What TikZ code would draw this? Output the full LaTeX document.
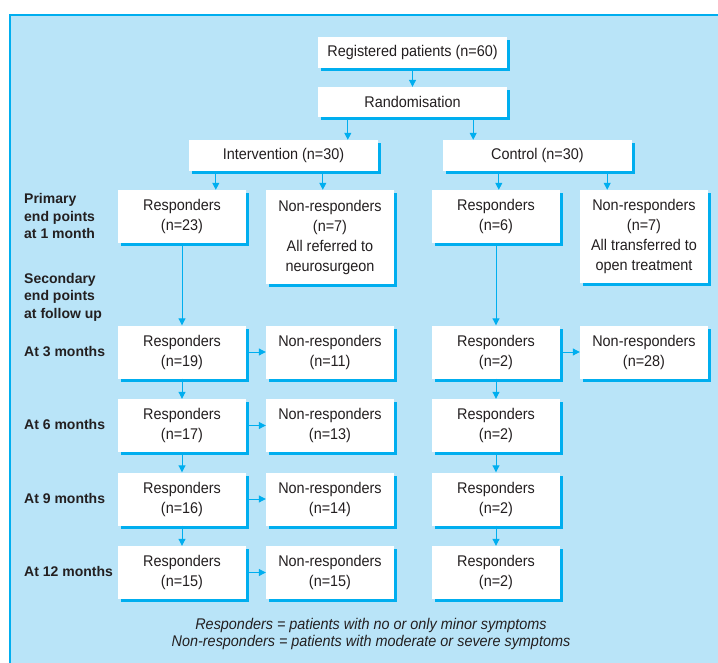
\documentclass[tikz,border=0pt]{standalone}
\usepackage{fontspec}
\setmainfont{Liberation Sans}
\newfontfamily\boxfont[FakeStretch=0.93]{Liberation Sans}
\usetikzlibrary{arrows.meta,shadows}
\definecolor{bgblue}{RGB}{185,228,248}
\definecolor{cyanC}{RGB}{0,174,239}
\definecolor{txt}{RGB}{35,31,32}
\begin{document}
\begin{tikzpicture}[x=1pt,y=-1pt,
 box/.style={fill=white, inner sep=0pt, minimum width=128pt, minimum height=53pt, align=center, text=txt,
   font=\boxfont\fontsize{15.5}{20}\selectfont,
   general shadow={fill=cyanC, shadow xshift=3pt, shadow yshift=-3pt}},
 wide/.style={box, minimum width=189pt, minimum height=31pt},
 arr/.style={draw=cyanC, line width=1pt, -{Triangle[length=7pt,width=7pt]}},
 lab/.style={font=\fontsize{14}{17.5}\selectfont\bfseries, text=txt, align=left, inner sep=0pt},
 note/.style={font=\boxfont\fontsize{15.5}{17}\selectfont\itshape, text=txt, inner sep=0pt}]
\useasboundingbox (0,0) rectangle (718,663);
\fill[bgblue] (10,15) rectangle (718,663);
\draw[cyanC, line width=1.5pt] (10,663) -- (10,15) -- (718,15);

% top
\node[wide] (reg) at (412.5,52.5) {Registered patients (n=60)};
\node[wide, minimum height=30pt] (rand) at (412.5,102) {Randomisation};
\node[wide] (int) at (283.5,155.5) {Intervention (n=30)};
\node[wide] (ctl) at (537.5,155.5) {Control (n=30)};

% 1 month
\node[box] (r1i) at (182,216.5) {Responders\\(n=23)};
\node[box, minimum height=94pt] (n1i) at (330,237) {Non-responders\\(n=7)\\All referred to\\neurosurgeon};
\node[box] (r1c) at (496,216.5) {Responders\\(n=6)};
\node[box, minimum height=93pt] (n1c) at (644,236.5) {Non-responders\\(n=7)\\All transferred to\\open treatment};

% follow up rows
\node[box] (ria) at (182,352) {Responders\\(n=19)};
\node[box] (nia) at (330,352) {Non-responders\\(n=11)};
\node[box] (rca) at (496,352) {Responders\\(n=2)};
\node[box] (nca) at (644,352) {Non-responders\\(n=28)};

\node[box] (rib) at (182,425.5) {Responders\\(n=17)};
\node[box] (nib) at (330,425.5) {Non-responders\\(n=13)};
\node[box] (rcb) at (496,425.5) {Responders\\(n=2)};

\node[box] (ric) at (182,499) {Responders\\(n=16)};
\node[box] (nic) at (330,499) {Non-responders\\(n=14)};
\node[box] (rcc) at (496,499) {Responders\\(n=2)};

\node[box] (rid) at (182,572.5) {Responders\\(n=15)};
\node[box] (nid) at (330,572.5) {Non-responders\\(n=15)};
\node[box] (rcd) at (496,572.5) {Responders\\(n=2)};

% arrows
\draw[arr] (reg) -- (rand);
\draw[arr] ([xshift=30pt]rand.south west) -- ([xshift=30pt]rand.south west |- int.north);
\draw[arr] ([xshift=-34pt]rand.south east) -- ([xshift=-34pt]rand.south east |- ctl.north);
\draw[arr] ([xshift=27pt]int.south west) -- ([xshift=27pt]int.south west |- r1i.north);
\draw[arr] ([xshift=134pt]int.south west) -- ([xshift=134pt]int.south west |- n1i.north);
\draw[arr] ([xshift=56pt]ctl.south west) -- ([xshift=56pt]ctl.south west |- r1c.north);
\draw[arr] ([xshift=-25pt]ctl.south east) -- ([xshift=-25pt]ctl.south east |- n1c.north);

\draw[arr] (r1i) -- (ria);
\draw[arr] (ria) -- (rib);
\draw[arr] (rib) -- (ric);
\draw[arr] (ric) -- (rid);
\draw[arr] (ria) -- (nia);
\draw[arr] (rib) -- (nib);
\draw[arr] (ric) -- (nic);
\draw[arr] (rid) -- (nid);

\draw[arr] (r1c) -- (rca);
\draw[arr] (rca) -- (rcb);
\draw[arr] (rcb) -- (rcc);
\draw[arr] (rcc) -- (rcd);
\draw[arr] (rca) -- (nca);

% labels
\node[lab, anchor=west] (lp) at (24,216) {Primary\\end points\\at 1 month};
\node[lab, anchor=west] (ls) at (24,297) {Secondary\\end points\\at follow up};
\node[lab, anchor=base west] (l3) at (24,356) {At 3 months};
\node[lab, anchor=base west] (l6) at (24,429.5) {At 6 months};
\node[lab, anchor=base west] (l9) at (24,503) {At 9 months};
\node[lab, anchor=base west] (l12) at (24,576.5) {At 12 months};

% footnote
\node[note, anchor=base] (f1) at (371,629) {Responders = patients with no or only minor symptoms};
\node[note, anchor=base] (f2) at (371,646) {Non-responders = patients with moderate or severe symptoms};
\end{tikzpicture}
\end{document}
